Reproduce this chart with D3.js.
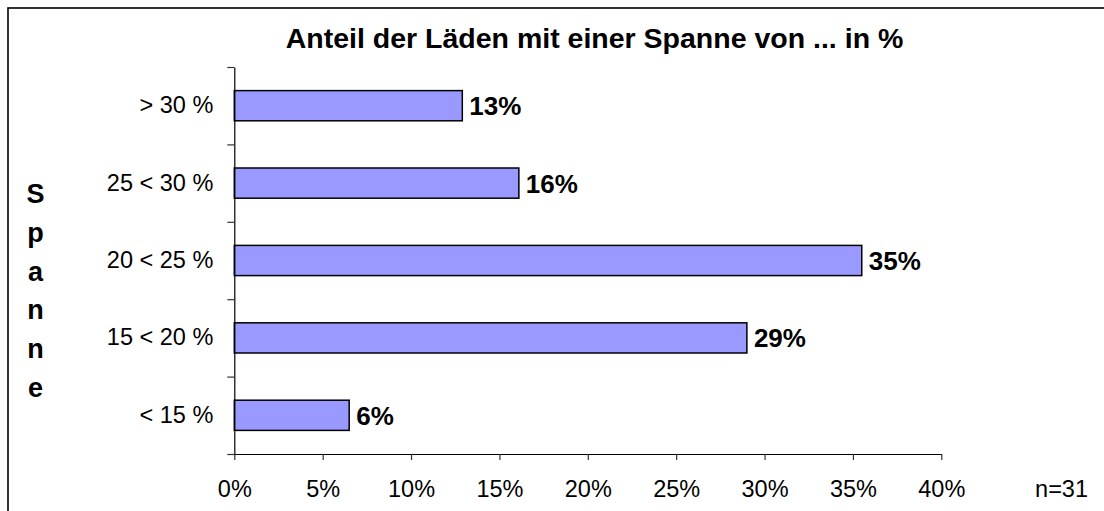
<!DOCTYPE html>
<html>
<head>
<meta charset="utf-8">
<script src="https://cdn.jsdelivr.net/npm/d3@7"></script>
<style>
  html, body { margin: 0; padding: 0; background: #fff; }
  svg { display: block; font-family: "Liberation Sans", Arial, sans-serif; }
</style>
</head>
<body>
<svg id="chart" width="1104" height="511"></svg>
<script>
const categories = ["> 30 %", "25 < 30 %", "20 < 25 %", "15 < 20 %", "< 15 %"];
const values = [12.9, 16.1, 35.5, 29.0, 6.5];
const valueLabels = ["13%", "16%", "35%", "29%", "6%"];
const xTicks = [0, 5, 10, 15, 20, 25, 30, 35, 40];
const title = "Anteil der Läden mit einer Spanne von ... in %";
const axisTitle = "Spanne";
const note = "n=31";

const svg = d3.select("#chart");

// frame (only left and top visible)
svg.append("rect")
  .attr("x", 8).attr("y", 8).attr("width", 1300).attr("height", 700)
  .attr("fill", "none").attr("stroke", "#000").attr("stroke-width", 1.6);

const plotLeft = 234.3, plotRight = 941.3, plotTop = 67, plotBottom = 454;

const x = d3.scaleLinear().domain([0, 40]).range([plotLeft, plotRight]);
const y = d3.scaleBand().domain(categories).range([plotTop, plotBottom])
  .paddingInner(0.61).paddingOuter(0.305);
const yBound = d3.scaleLinear().domain([0, categories.length]).range([plotBottom, plotTop]);

// bars
svg.append("g").selectAll("rect")
  .data(categories)
  .join("rect")
  .attr("x", x(0))
  .attr("y", d => y(d))
  .attr("width", (d, i) => x(values[i]) - x(0))
  .attr("height", y.bandwidth())
  .attr("fill", "#9999FF")
  .attr("stroke", "#000")
  .attr("stroke-width", 1.5);

// value labels
svg.append("g").selectAll("text")
  .data(categories)
  .join("text")
  .attr("x", (d, i) => x(values[i]) + 7)
  .attr("y", d => y(d) + y.bandwidth() / 2 + 9.5)
  .attr("font-size", 26)
  .attr("font-weight", "bold")
  .attr("fill", "#000")
  .text((d, i) => valueLabels[i]);

// x axis
const xAxis = svg.append("g")
  .attr("transform", `translate(0,${plotBottom})`)
  .call(d3.axisBottom(x).tickValues(xTicks).tickFormat(d => d + "%")
    .tickSizeInner(6).tickSizeOuter(0).tickPadding(20));
xAxis.select(".domain").attr("stroke", "#000").attr("stroke-width", 1.2);
xAxis.selectAll(".tick line").attr("stroke", "#333").attr("stroke-width", 1.2);
xAxis.selectAll("text").attr("font-size", 23.5).attr("font-family", "Liberation Sans, Arial, sans-serif").attr("fill", "#000");

// y axis boundary ticks
const yAxis = svg.append("g")
  .attr("transform", `translate(${plotLeft},0)`)
  .call(d3.axisLeft(yBound).tickValues(d3.range(categories.length + 1)).tickFormat("")
    .tickSizeInner(7).tickSizeOuter(0));
yAxis.select(".domain").attr("stroke", "#000").attr("stroke-width", 1.2);
yAxis.selectAll(".tick line").attr("stroke", "#333").attr("stroke-width", 1.2);

// y category labels
const yLab = svg.append("g")
  .attr("transform", `translate(${plotLeft},0)`)
  .call(d3.axisLeft(y).tickSize(0).tickPadding(21));
yLab.select(".domain").remove();
yLab.selectAll("text")
  .attr("font-size", 23.5)
  .attr("font-family", "Liberation Sans, Arial, sans-serif")
  .attr("fill", "#000")
  .attr("dy", null)
  .attr("y", 7.5);

// title
svg.append("text")
  .attr("x", 594.5).attr("y", 48)
  .attr("text-anchor", "middle")
  .attr("font-size", 28.5)
  .attr("font-weight", "bold")
  .attr("fill", "#000")
  .text(title);

// vertical axis title, one letter per line
svg.append("g").selectAll("text")
  .data(axisTitle.split(""))
  .join("text")
  .attr("x", 35.5)
  .attr("y", (d, i) => 203 + i * 38.8)
  .attr("text-anchor", "middle")
  .attr("font-size", 27)
  .attr("font-weight", "bold")
  .attr("fill", "#000")
  .text(d => d);

// n note
svg.append("text")
  .attr("x", 1088).attr("y", 497)
  .attr("text-anchor", "end")
  .attr("font-size", 23.5)
  .attr("fill", "#000")
  .text(note);
</script>
</body>
</html>
